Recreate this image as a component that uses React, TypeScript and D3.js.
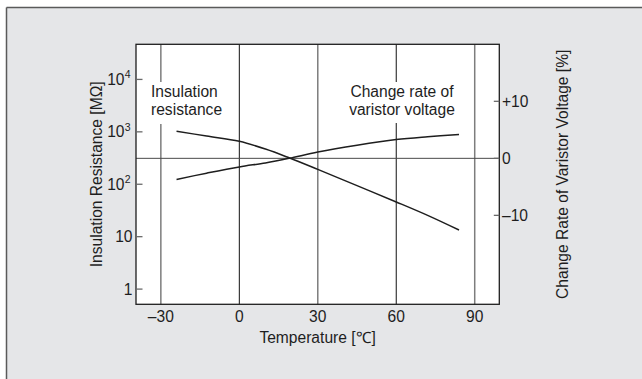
import * as d3 from 'd3';

// temperature [°C] of the sampled points on both curves
const tempC = [-24, -12.5, 0, 10, 19, 30, 45, 60, 72, 84];
// insulation resistance [MΩ] (left, log axis)
const insulationMOhm = [1030, 830, 660, 470, 320, 192, 94, 46, 25.5, 13.4];
// change rate of varistor voltage [%] (right axis)
const varistorChangePct = [-3.7, -2.6, -1.5, -0.8, 0, 1.1, 2.3, 3.3, 3.8, 4.2];

const xTicks = [-30, 0, 30, 60, 90];
const xTickLabels = ['–30', '0', '30', '60', '90'];
const leftTicks = [1, 10, 100, 1000, 10000];
const leftTickBase = ['1', '10', '10', '10', '10'];
const leftTickExp = ['', '', '2', '3', '4'];
const rightTicks = [10, 0, -10];
const rightTickLabels = ['+10', '0', '–10'];

const W = 642;
const H = 379;
const FONT = '"Liberation Sans", Arial, sans-serif';
const INK = '#1e1e1e';

export default function App() {
  const left = 136;
  const right = 499.3;
  const top = 44.3;
  const bottom = 304.3;

  const x = d3.scaleLinear().domain([-39.5, 99.4]).range([left, right]);
  const yL = d3.scaleLog().domain([10 ** -0.29, 10 ** 4.67]).range([bottom, top]);
  const yR = d3.scaleLinear().domain([-25.6, 20]).range([bottom, top]);

  const insPts = tempC.map((t, i) => [t, insulationMOhm[i]] as [number, number]);
  const varPts = tempC.map((t, i) => [t, varistorChangePct[i]] as [number, number]);

  const insLine = d3.line<[number, number]>()
    .x(d => x(d[0]))
    .y(d => yL(d[1]))
    .curve(d3.curveCatmullRom.alpha(0.5));
  const varLine = d3.line<[number, number]>()
    .x(d => x(d[0]))
    .y(d => yR(d[1]))
    .curve(d3.curveCatmullRom.alpha(0.5));

  const midY = (top + bottom) / 2;

  return (
    <svg
      width={W}
      height={H}
      style={{ position: 'fixed', left: 0, top: 0, display: 'block' }}
      fontFamily={FONT}
    >
      <rect x={0} y={0} width={W} height={H} fill="#fff" />
      {/* panel */}
      <rect x={6.5} y={7.5} width={W} height={H} fill="#e5e6e8" />
      <line x1={6.5} y1={7.5} x2={W} y2={7.5} stroke="#5a5a5a" strokeWidth={1.5} />
      <line x1={6.5} y1={7.5} x2={6.5} y2={H} stroke="#5a5a5a" strokeWidth={1.5} />

      {/* plot area */}
      <rect x={left} y={top} width={right - left} height={bottom - top} fill="#fff" />

      {/* vertical grid */}
      {xTicks.map((t, i) => (
        <line
          key={t}
          x1={x(t)}
          x2={x(t)}
          y1={top}
          y2={bottom}
          stroke={i % 2 === 0 ? '#7d7d7d' : '#111'}
          strokeWidth={i % 2 === 0 ? 1.5 : 1}
        />
      ))}

      {/* label boxes hiding the grid */}
      <rect x={147} y={82} width={80} height={42} fill="#fff" />
      <rect x={344} y={82} width={116} height={41} fill="#fff" />

      {/* zero line of right axis */}
      <line x1={left} x2={right} y1={yR(0)} y2={yR(0)} stroke="#4a4a4a" strokeWidth={1} />

      {/* curves */}
      <path d={insLine(insPts) ?? ''} fill="none" stroke={INK} strokeWidth={1.5} />
      <path d={varLine(varPts) ?? ''} fill="none" stroke={INK} strokeWidth={1.5} />

      {/* frame */}
      <rect x={left} y={top} width={right - left} height={bottom - top} fill="none" stroke={INK} strokeWidth={1.3} />

      {/* left axis */}
      {leftTicks.map((v, i) => (
        <g key={v}>
          <line x1={left} x2={left + 6.5} y1={yL(v)} y2={yL(v)} stroke="#6a6a6a" strokeWidth={1.3} />
          <text
            x={leftTickExp[i] ? 124.5 : 132.5}
            y={yL(v)}
            dy="0.36em"
            textAnchor="end"
            fontSize={15.6}
            fill={INK}
          >
            {leftTickBase[i]}
          </text>
          {leftTickExp[i] && (
            <text x={124.8} y={yL(v)} dy="0.36em" fontSize={10.5} fill={INK}>
              <tspan dy="-0.1em">{leftTickExp[i]}</tspan>
            </text>
          )}
        </g>
      ))}

      {/* right axis */}
      {rightTicks.map((v, i) => (
        <g key={v}>
          <line x1={right - 5.5} x2={right} y1={yR(v)} y2={yR(v)} stroke="#6a6a6a" strokeWidth={1.3} />
          <text x={502} y={yR(v)} dy="0.36em" fontSize={15.6} fill={INK}>
            {rightTickLabels[i]}
          </text>
        </g>
      ))}

      {/* bottom tick labels */}
      {xTicks.map((t, i) => (
        <text key={t} x={x(t)} y={322} textAnchor="middle" fontSize={15.6} fill={INK}>
          {xTickLabels[i]}
        </text>
      ))}

      {/* axis titles */}
      <text x={(left + right) / 2} y={342.5} textAnchor="middle" fontSize={15.6} fill={INK}>
        Temperature [℃]
      </text>
      <text
        transform={`translate(101.5,${midY}) rotate(-90)`}
        textAnchor="middle"
        fontSize={15.6}
        fill={INK}
      >
        Insulation Resistance [MΩ]
      </text>
      <text
        transform={`translate(568,${midY}) rotate(-90)`}
        textAnchor="middle"
        fontSize={15.6}
        fill={INK}
      >
        Change Rate of Varistor Voltage [%]
      </text>

      {/* curve labels */}
      <text x={151} y={96.7} fontSize={15.6} fill={INK}>
        <tspan x={151}>Insulation</tspan>
        <tspan x={151} dy={18.3}>resistance</tspan>
      </text>
      <text x={402} y={96.7} textAnchor="middle" fontSize={15.6} fill={INK}>
        <tspan x={402}>Change rate of</tspan>
        <tspan x={402} dy={18.3}>varistor voltage</tspan>
      </text>
    </svg>
  );
}
